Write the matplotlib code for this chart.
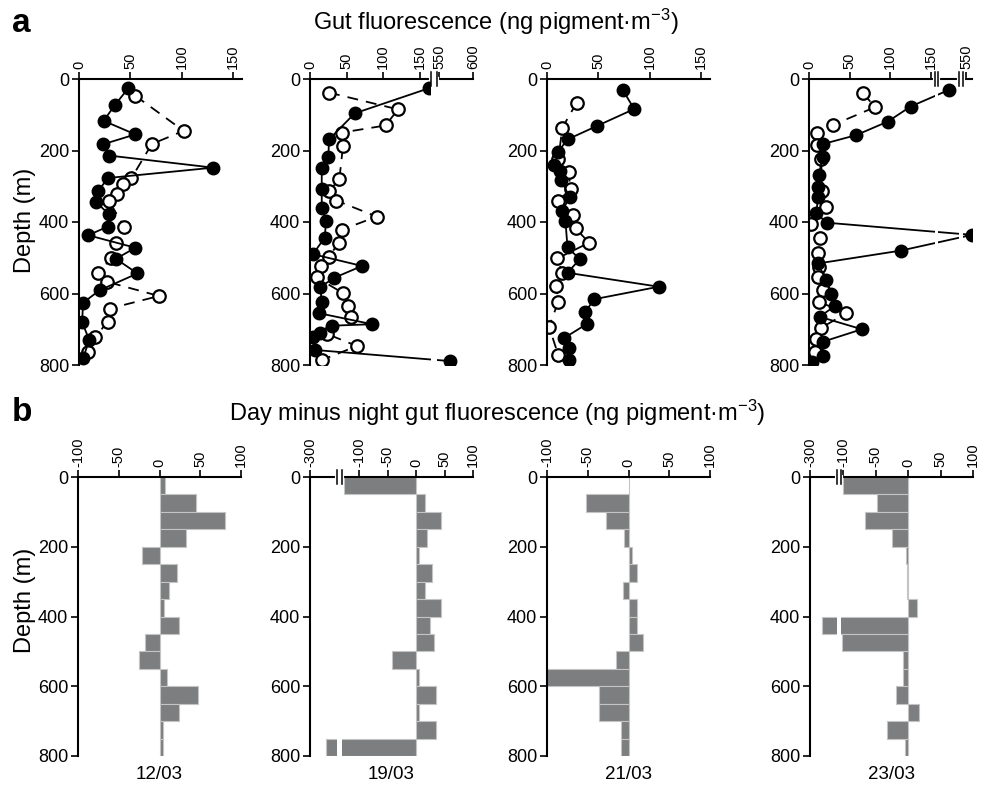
import numpy as np
import matplotlib.pyplot as plt

plt.rcParams['font.family'] = ['Liberation Sans', 'DejaVu Sans']
plt.rcParams['mathtext.default'] = 'regular'

dates = ['12/03', '19/03', '21/03', '23/03']

# ---- panel a: day (filled) / night (open) gut fluorescence profiles ----
day_depth_1203 = [26, 73, 117, 155, 183, 214, 248, 277, 313, 345, 378, 413, 437, 472, 503, 544, 591, 626, 680, 730, 781]
day_gf_1203 = [48, 35, 24, 55, 23, 29, 131, 28, 19, 17, 29, 28, 9, 55, 36, 57, 20, 4, 3, 10, 4]
night_depth_1203 = [47, 145, 182, 278, 295, 322, 340, 413, 460, 502, 544, 567, 607, 642, 679, 721, 763]
night_gf_1203 = [55, 102, 71, 51, 43, 37, 29, 44, 36, 31, 19, 27, 78, 30, 28, 16, 9]

day_depth_1903 = [26, 96, 169, 217, 250, 309, 362, 397, 444, 490, 523, 556, 582, 624, 655, 686, 690, 710, 722, 758, 789]
day_gf_1903 = [162, 61, 26, 25, 16, 16, 16, 22, 20, 4, 71, 33, 14, 16, 12, 85, 30, 14, 4, 7, 566]
night_depth_1903 = [38, 85, 130, 150, 187, 281, 313, 340, 385, 422, 458, 497, 522, 555, 599, 635, 666, 713, 747, 786]
night_gf_1903 = [26, 120, 103, 43, 45, 40, 26, 36, 91, 43, 39, 26, 15, 9, 45, 52, 56, 23, 64, 16]

day_depth_2103 = [31, 84, 131, 169, 203, 241, 256, 283, 331, 368, 397, 471, 504, 542, 581, 616, 653, 685, 724, 753, 786]
day_gf_2103 = [74, 85, 49, 20, 11, 7, 13, 14, 22, 15, 18, 20, 32, 20, 109, 46, 37, 39, 17, 21, 21]
night_depth_2103 = [66, 136, 225, 261, 309, 340, 380, 418, 458, 502, 542, 579, 623, 693, 772]
night_gf_2103 = [29, 15, 11, 21, 23, 11, 25, 28, 41, 10, 15, 9, 11, 2, 11]

day_depth_2303 = [31, 77, 119, 157, 182, 217, 269, 301, 331, 376, 402, 436, 480, 516, 562, 601, 635, 665, 700, 735, 775, 791]
day_gf_2303 = [195, 125, 97, 58, 17, 17, 12, 11, 11, 9, 22, 560, 113, 11, 21, 27, 32, 13, 65, 17, 17, 4]
night_depth_2303 = [40, 79, 129, 152, 185, 223, 313, 359, 406, 446, 486, 525, 555, 590, 623, 655, 696, 728, 765]
night_gf_2303 = [67, 81, 29, 10, 10, 15, 16, 21, 3, 14, 11, 12, 11, 17, 12, 46, 15, 9, 7]

# ---- panel b: day minus night, 50 m bins ----
bin_top = [0, 50, 100, 150, 200, 250, 300, 350, 400, 450, 500, 550, 600, 650, 700, 750]
diff_1203 = [7, 45, 80, 33, -22, 21, 12, 6, 24, -18, -25, 9, 47, 24, 4, 4]
diff_1903 = [-126, 15, 44, 19, 6, 28, 15, 44, 24, 31, -43, 6, 35, 6, 35, -272]
diff_2103 = [0, -52, -27, -6, 4, 10, -7, 10, 10, 18, -15, -104, -36, -36, -9, -9]
diff_2303 = [-100, -48, -66, -25, -3, -1, -1, 14, -281, -102, -8, -8, -19, 17, -33, -5]

W, H = 981, 787
fig = plt.figure(figsize=(9.81, 7.87), dpi=100)


def px_axes(left, top, width, height):
    return fig.add_axes([left / W, 1 - (top + height) / H, width / W, height / H])


def broken(ax, vals, pos):
    # piecewise linear x scale to imitate the broken axes
    fwd = lambda x: np.interp(x, vals, pos)
    inv = lambda y: np.interp(y, pos, vals)
    ax.set_xscale('function', functions=(fwd, inv))


def break_marks(ax, gaps):
    tr = ax.get_xaxis_transform()
    for g0, g1 in gaps:
        ax.axvspan(g0, g1, color='white', lw=0, zorder=3)
        ax.plot([g0, g1], [1, 1], color='white', lw=3, transform=tr, clip_on=False, zorder=4)
        for g in (g0, g1):
            ax.plot([g, g], [0.975, 1.025], color='black', lw=1.1, transform=tr,
                    clip_on=False, zorder=5)


def style(ax, xticks, xlim):
    ax.set_xlim(*xlim)
    ax.set_ylim(800, 0)
    ax.xaxis.tick_top()
    ax.set_xticks(xticks)
    ax.set_xticklabels([str(t) for t in xticks], rotation=90, fontsize=10.5)
    ax.set_yticks([0, 200, 400, 600, 800])
    ax.tick_params(axis='y', labelsize=13)
    ax.tick_params(direction='out', length=5, width=1.2, pad=2)
    for s in ['bottom', 'right']:
        ax.spines[s].set_visible(False)
    for s in ['top', 'left']:
        ax.spines[s].set_linewidth(1.5)


# ---------------- row a ----------------
a_left = [79, 310, 547, 809]
a_series = [
    (day_gf_1203, day_depth_1203, night_gf_1203, night_depth_1203),
    (day_gf_1903, day_depth_1903, night_gf_1903, night_depth_1903),
    (day_gf_2103, day_depth_2103, night_gf_2103, night_depth_2103),
    (day_gf_2303, day_depth_2303, night_gf_2303, night_depth_2303),
]
a_ticks = [[0, 50, 100, 150], [0, 50, 100, 150, 550, 600], [0, 50, 100, 150], [0, 50, 100, 150, 550]]
a_lims = [(0, 159), (0, 600), (0, 159), (0, 560)]

for i, ax_left in enumerate(a_left):
    ax = px_axes(ax_left, 79, 163, 286)
    if i == 1:
        broken(ax, [0, 165, 547, 600], [0, 121, 127, 163])
    if i == 3:
        broken(ax, [0, 155, 165, 225, 545, 560], [0, 126, 129, 150, 154, 163])
    dx, dy, nx, ny = a_series[i]
    ax.plot(nx, ny, color='black', lw=1.3, ls=(0, (6, 4.5)), marker='o', ms=9,
            mfc='white', mec='black', mew=1.6, zorder=2)
    ax.plot(dx, dy, color='black', lw=1.3, marker='o', ms=9,
            mfc='black', mec='black', zorder=2.2)
    style(ax, a_ticks[i], a_lims[i])
    if i == 1:
        break_marks(ax, [(165, 547)])
    if i == 3:
        break_marks(ax, [(155, 165), (225, 545)])

# ---------------- row b ----------------
b_left = [78, 310, 547, 810]
b_vals = [diff_1203, diff_1903, diff_2103, diff_2303]
b_ticks = [[-100, -50, 0, 50, 100], [-300, -100, -50, 0, 50, 100],
           [-100, -50, 0, 50, 100], [-300, -100, -50, 0, 50, 100]]
b_lims = [(-100, 100), (-300, 100), (-100, 100), (-300, 100)]

for i, ax_left in enumerate(b_left):
    ax = px_axes(ax_left, 477, 163, 279)
    if i == 1:
        broken(ax, [-300, -253, -130, 100], [0, 27, 32, 163])
    if i == 3:
        broken(ax, [-300, -258, -103, 100], [0, 27, 31, 162])
    ax.barh(bin_top, b_vals[i], height=50, align='edge', color='#7d7e80',
            edgecolor='#c4c4c4', linewidth=0.8, zorder=2)
    style(ax, b_ticks[i], b_lims[i])
    if i == 1:
        break_marks(ax, [(-253, -130)])
    if i == 3:
        break_marks(ax, [(-258, -103)])
    ax.text(0.5, -0.068, dates[i], transform=ax.transAxes, ha='center', va='center',
            fontsize=13.5)

# ---------------- labels ----------------
fig.text(12 / W, 1 - 23 / H, 'a', fontsize=24, fontweight='bold', va='center')
fig.text(12 / W, 1 - 412 / H, 'b', fontsize=24, fontweight='bold', va='center')
fig.text(496 / W, 1 - 22 / H, 'Gut fluorescence (ng pigment·m$^{-3}$)',
         ha='center', va='center', fontsize=17)
fig.text(497 / W, 1 - 413 / H, 'Day minus night gut fluorescence (ng pigment·m$^{-3}$)',
         ha='center', va='center', fontsize=17)
fig.text(25 / W, 1 - 220 / H, 'Depth (m)', rotation=90, ha='center', va='center', fontsize=17)
fig.text(25 / W, 1 - 600 / H, 'Depth (m)', rotation=90, ha='center', va='center', fontsize=17)

fig.savefig('out.png', dpi=100)
